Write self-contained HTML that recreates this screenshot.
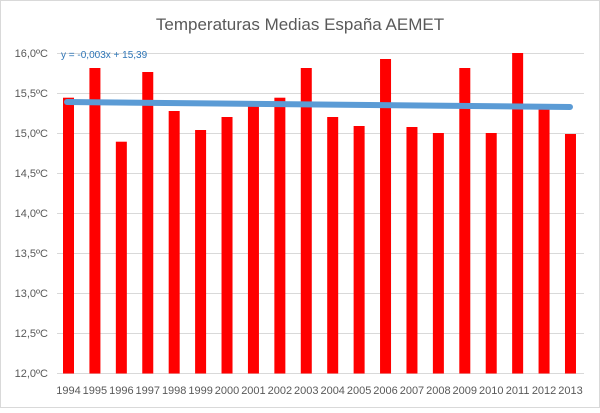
<!DOCTYPE html>
<html><head><meta charset="utf-8"><style>body{margin:0;background:#fff}</style></head>
<body>
<svg width="600" height="408" xmlns="http://www.w3.org/2000/svg" font-family="Liberation Sans, sans-serif">
<rect x="0.5" y="0.5" width="599" height="407" fill="#fff" stroke="#d9d9d9"/>
<text x="300" y="30" text-anchor="middle" font-size="17" fill="#595959">Temperaturas Medias España AEMET</text>
<g stroke="#d9d9d9" stroke-width="1">
<line x1="57" x2="584" y1="53.5" y2="53.5"/><line x1="57" x2="584" y1="93.5" y2="93.5"/>
<line x1="57" x2="584" y1="133.5" y2="133.5"/><line x1="57" x2="584" y1="173.5" y2="173.5"/>
<line x1="57" x2="584" y1="213.5" y2="213.5"/><line x1="57" x2="584" y1="253.5" y2="253.5"/>
<line x1="57" x2="584" y1="293.5" y2="293.5"/><line x1="57" x2="584" y1="333.5" y2="333.5"/>
<line x1="57" x2="584" y1="373.5" y2="373.5"/>
</g>
<g font-size="11" fill="#595959" text-anchor="end">
<text x="48" y="57">16,0ºC</text><text x="48" y="97">15,5ºC</text><text x="48" y="137">15,0ºC</text>
<text x="48" y="177">14,5ºC</text><text x="48" y="217">14,0ºC</text><text x="48" y="257">13,5ºC</text>
<text x="48" y="297">13,0ºC</text><text x="48" y="337">12,5ºC</text><text x="48" y="377">12,0ºC</text>
</g>
<g fill="#ff0000" id="bars"></g>
<line x1="67" y1="102" x2="570" y2="107" stroke="#5b9bd5" stroke-width="6" stroke-linecap="round"/>
<text x="61" y="58" font-size="10" fill="#2e75b6">y = -0,003x + 15,39</text>
<g font-size="11" fill="#595959" text-anchor="middle" id="xl"></g>
<script>
var tops=[97.7,68,141.7,72,111,130,117,105,97.7,68,117,126,59,127,133,68,133,53,108,134];
var b=document.getElementById('bars'),xl=document.getElementById('xl'),ns="http://www.w3.org/2000/svg";
for(var i=0;i<20;i++){var x=63+i*26.42;var r=document.createElementNS(ns,'rect');
r.setAttribute('x',x);r.setAttribute('y',tops[i]);r.setAttribute('width',11);r.setAttribute('height',373.5-tops[i]);b.appendChild(r);
var t=document.createElementNS(ns,'text');t.setAttribute('x',x+5.5);t.setAttribute('y',394);t.textContent=1994+i;xl.appendChild(t);}
</script>
</svg>
</body></html>
